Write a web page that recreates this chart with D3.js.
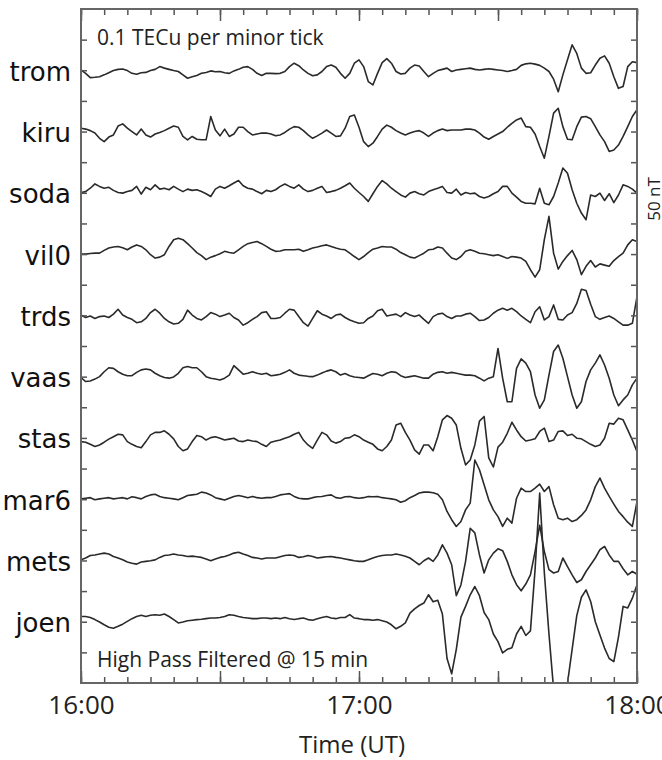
<!DOCTYPE html>
<html>
<head>
<meta charset="utf-8">
<script src="https://cdn.jsdelivr.net/npm/d3@7"></script>
<style>
  body { margin: 0; background: #fff; }
  svg { display: block; }
  .tick line { stroke: #555; stroke-width: 1.5; }
  .trace { fill: none; stroke: #2a2a2a; stroke-width: 1.6; stroke-linejoin: round; }
</style>
</head>
<body>
<div class="tec-plot"></div>
<script>
// station order, top to bottom
var STATIONS = ["trom", "kiru", "soda", "vil0", "trds", "vaas", "stas", "mar6", "mets", "joen"];

// high-pass filtered dTEC in 0.01 TECu, one sample per minute from 16:00 UT
var trom = [0.1,-1.0,-2.4,-2.3,-2.1,-1.5,-0.8,-0.1,0.3,0.4,
  -0.1,-1.0,-1.3,-0.8,-0.7,-0.1,0.3,1.2,0.7,0.3,
  -0.1,-0.4,-1.5,-2.6,-2.1,-1.7,-1.0,-0.7,-0.2,-0.5,
  -0.4,-0.8,-1.0,-0.2,0.3,1.0,1.2,0.3,-1.0,-1.7,
  -1.0,-1.0,-1.1,-1.0,-0.4,1.2,2.3,1.5,0.1,-1.0,
  -1.8,-1.5,-0.4,1.2,1.7,1.0,-1.0,-2.6,-1.0,2.3,
  3.4,1.2,-3.7,-4.8,-1.0,2.5,3.8,2.3,-0.4,-1.2,
  -1.0,0.7,1.7,1.4,-0.4,-2.1,-1.0,-0.1,0.3,0.7,
  -0.4,0.1,0.3,0.5,0.7,0.3,0.1,0.3,0.5,0.3,
  0.1,-0.1,-0.4,-0.1,0.3,1.6,2.1,2.3,2.0,1.6,
  0.7,-0.4,-2.9,-7.0,-1.5,3.4,8.3,5.5,0.7,-1.0,
  -0.8,1.7,3.9,4.7,2.3,-2.1,-5.9,-5.3,1.2,2.8,
  2.5];
var kiru = [1.1,0.8,0.3,-0.5,-2.2,-3.3,-1.8,-1.1,1.8,2.5,
  1.1,0,-1.1,0.8,-1.1,-1.8,-0.8,-0.3,0.3,1.1,
  1.8,1.4,-1.6,-2.7,-1.6,-2.5,-2.7,-2.7,4.9,0.5,
  -1.4,0.8,-1.6,-0.8,1.4,1.4,0,-1.1,-0.8,-0.5,
  -0.5,-0.8,-1.4,-1.1,-0.3,0.8,1.6,1.4,0.3,-1.1,
  -2.2,-1.4,-0.5,0.5,-0.5,-1.6,-1.4,1.1,4.9,5.4,
  1.4,-3.3,-4.9,-3.8,-1.6,0.8,2.1,1.4,0.3,-0.5,
  -1.1,-0.5,0,0.3,-0.5,-1.6,-0.5,0.3,0.8,0.3,
  0.5,0.5,0.5,0.8,0.8,0.5,-0.5,-1.8,-2.5,-1.6,
  -0.8,0,1.4,2.7,3.8,4.4,1.6,1.4,-0.8,-4.9,
  -8.7,-1.6,6.0,7.6,1.6,-2.5,-2.7,1.6,4.7,4.9,
  4.2,1.6,-1.1,-3.3,-6.5,-6.0,-4.4,-1.6,1.6,4.9,
  7.1];
var soda = [0.1,0.4,1.5,2.9,2.1,1.5,1.8,0.8,0.1,-0.1,
  0.4,0.8,2.1,-0.4,1.8,1.0,2.6,1.2,1.5,1.0,
  2.1,1.2,0.4,1.2,0.8,1.0,0.4,-0.3,-1.2,1.2,
  2.1,1.5,2.3,3.2,4.0,2.3,1.5,1.2,0.4,-0.3,
  0.8,0.4,1.0,2.1,2.9,2.1,1.5,2.6,1.2,0.4,
  0.8,1.5,2.1,0.1,0.4,0.8,1.5,2.3,3.2,1.5,
  0.1,-1.2,-2.8,-0.3,2.1,4.0,2.9,1.5,0.4,-0.7,
  -1.4,-0.1,0.4,-0.3,-0.7,0.4,1.0,1.5,2.1,0.1,
  -0.1,1.2,-0.7,0.1,-0.3,-0.1,-1.2,-1.7,-1.2,-0.3,
  0.4,2.1,2.1,-0.1,-1.4,-2.8,-3.4,-3.4,-3.6,1.5,
  -3.4,-3.9,-1.2,3.2,8.1,6.4,1.0,-3.4,-6.6,-8.8,
  -0.7,-1.2,-0.1,-2.5,-0.3,-3.2,-0.7,2.6,2.1,1.2,
  -0.1];
var vil0 = [0,0,0.2,0.3,0.3,1.2,2.0,2.3,2.5,2.1,
  1.4,2.3,3.0,2.5,1.4,-0.2,-1.3,-1.0,-0.2,2.5,
  4.7,5.2,4.7,3.4,2.0,0.5,-0.5,-1.8,-1.0,-0.5,
  0.1,0.9,0.5,0.3,1.4,2.5,3.4,3.8,4.1,3.4,
  2.5,1.6,0.9,1.0,1.4,1.4,1.4,1.6,0.9,1.4,
  2.0,2.3,2.7,3.0,2.5,2.0,1.6,1.4,0.3,-0.8,
  -1.8,-0.8,0.5,1.6,2.0,2.5,2.3,2.3,1.6,0.5,
  -0.2,-1.0,-1.3,-0.5,0.3,1.4,1.6,2.3,2.0,0.3,
  -1.3,-1.8,-0.8,0.9,1.4,0.9,0.3,0.1,-0.2,-0.5,
  -0.2,-0.8,-1.4,-0.8,-1.0,-1.3,-2.4,-5.1,-7.5,-5.1,
  4.7,12.3,0.3,-4.9,-2.4,-0.5,1.2,-1.8,-6.7,-4.0,
  -2.1,-4.2,-3.2,-3.6,-4.0,-2.1,-0.8,0.3,3.0,4.7,
  4.1];
var trds = [0.1,-0.7,-0.2,-1.0,-0.4,-0.2,-0.7,0.4,2.0,0.1,
  -0.7,-1.3,-2.4,-2.1,-1.0,0.9,2.0,0.7,-1.0,-2.1,
  -2.8,-2.6,-1.3,1.7,0.1,-1.0,-1.5,-0.4,0.9,0.4,
  -0.4,0.1,0.7,-0.7,-1.5,-3.2,-2.4,-1.3,-0.4,0.9,
  1.2,-1.0,-1.0,-0.7,0.7,2.0,1.7,-0.4,-2.4,-3.5,
  -1.0,1.5,0.4,-0.2,-1.0,0.1,0.4,-0.7,-1.5,-2.1,
  -2.6,-2.4,-1.0,-0.2,1.5,2.0,-0.2,0.1,0.4,-0.4,
  0.9,0.1,-0.4,0.1,-1.3,-2.6,-0.4,0.4,0.7,-0.4,
  -1.0,-0.2,-0.2,0.4,0.7,-0.4,-1.7,-1.5,-0.7,0.7,
  1.7,2.3,1.7,2.3,1.2,-0.2,-1.3,-2.4,1.2,2.8,
  -1.5,-0.4,3.4,-1.3,-1.5,0.1,0.9,3.9,8.5,8.1,
  3.6,-0.4,-1.3,-0.7,-0.2,-1.0,-2.1,-3.2,-3.2,-2.6,
  6.1];
var vaas = [-0.3,-1.6,-1.4,-0.8,0,1.6,2.9,2.7,1.6,0.8,
  0.3,0.3,1.4,2.2,2.5,2.2,1.1,0.3,-0.3,-0.5,
  -0.1,1.1,2.9,3.3,2.9,2.9,1.6,0,-0.5,-0.8,
  -1.1,-0.5,0.5,3.6,2.2,0.8,1.1,1.6,1.1,0.8,
  1.1,0.3,0.5,0.8,1.4,2.2,1.1,0.5,0.3,0.1,
  0,0.5,1.2,1.8,2.2,1.6,0.5,1.0,0.3,-0.1,
  -0.3,-0.5,0.3,1.0,0.8,0.3,1.1,1.6,1.4,0.3,
  -0.3,0,0.3,-0.1,-0.5,-0.5,0.8,1.4,1.6,1.1,
  1.4,1.1,0.8,0.5,0.5,0.3,-0.5,-1.4,-0.5,0,
  9.2,-0.5,-8.2,-8.2,2.7,5.8,4.4,1.6,-6.0,-10.3,
  -7.6,0.5,8.2,10.3,6.0,0,-6.0,-10.3,-8.2,-1.6,
  2.2,4.4,7.1,3.8,-0.5,-6.0,-9.5,-7.6,-6.0,-2.7,
  -0.5];
var stas = [-1.2,-1.4,-2.1,-2.8,-2.3,-1.4,-0.4,0.4,1.2,1.0,
  -1.2,-2.1,-2.8,-3.2,-1.2,1.0,1.8,1.8,2.3,1.2,
  -0.3,-2.8,-4.2,-3.6,-1.2,0.8,0.4,-0.7,0.1,0.4,
  -0.1,-0.7,-0.4,-0.1,-1.0,-1.2,-0.7,-1.0,-1.2,-2.1,
  -2.8,-1.4,-1.0,-0.7,-0.1,0.4,1.2,1.8,-0.7,-2.3,
  -3.4,-0.7,1.8,1.0,-1.0,-1.7,-1.2,-0.1,0.1,1.0,
  0.4,-0.7,-1.4,-2.1,-3.6,-4.2,-2.8,-0.7,4.2,4.8,
  1.8,-0.7,-3.9,-5.3,-2.3,-2.3,-4.2,0.4,5.9,7.3,
  6.4,4.2,-3.4,-8.8,-7.2,-2.3,5.5,7.0,-6.5,-9.5,
  -3.0,-1.4,1.5,5.1,2.6,0.4,-1.0,-0.7,-0.3,2.1,
  3.2,-1.2,-0.7,2.1,2.3,0.8,1.2,-0.1,-0.3,-1.2,
  -2.1,-2.8,-2.3,-0.1,4.8,4.5,6.4,5.9,2.6,-0.7,
  -4.5];
var mar6 = [0.1,0.3,0.5,-0.2,0.1,0.3,0.5,0.1,0.3,0.5,
  0.1,0.8,0.5,0.1,0.9,1.4,1.6,0.9,0.5,0.3,
  0.1,-0.2,0.5,1.2,1.4,1.6,2.3,2.0,1.4,0.5,
  0.1,-0.3,0.3,0.9,1.2,0.9,0.5,0.9,0.5,0.3,
  0.5,0.5,0.9,1.4,1.6,1.8,0.9,0.3,0.1,0.1,
  0.5,0.8,0.9,1.2,1.4,0.5,0.3,0.8,0.9,0.5,
  0.3,0.5,0.9,0.8,0.9,0.5,0.3,0.1,-0.2,-1.0,
  -0.5,0.5,1.2,2.0,2.3,2.3,2.1,1.6,-0.2,-4.0,
  -6.7,-8.9,-7.3,-3.5,-1.3,12.8,9.6,4.7,-0.2,-3.5,
  -5.7,-8.9,-6.2,-7.8,0.3,3.6,2.5,2.5,3.6,4.9,
  2.5,4.1,-1.8,-6.2,-6.7,-6.2,-7.3,-6.7,-5.3,-3.5,
  -0.2,4.1,6.9,3.6,0.9,-1.6,-4.0,-5.7,-7.5,-8.9,
  -0.8];
var mets = [0.2,0.8,1.6,1.8,2.1,2.4,2.1,1.3,0.8,0.2,
  -0.5,-0.9,-1.2,-0.5,-0.3,-0.1,0.2,1.0,1.6,1.8,
  2.1,1.8,1.6,1.3,1.4,1.2,1.0,0.5,-0.1,0.5,
  1.0,1.3,1.8,2.4,2.7,2.1,1.6,1.0,0.8,0.5,
  0.8,0.8,0.8,1.2,1.6,1.8,1.6,1.0,1.2,1.6,
  1.3,0.8,1.0,1.2,1.3,1.0,0.8,0.5,0.2,-0.1,
  -0.3,-0.3,0.2,0.8,1.3,1.6,1.8,1.8,2.1,1.8,
  1.4,0.8,-0.3,-1.4,-0.1,0.8,-0.3,1.8,5.1,2.4,
  -1.4,-11.5,-8.0,-0.3,10.5,9.0,1.8,-4.1,0.2,2.4,
  3.8,3.2,-0.3,-4.7,-7.9,-9.9,-7.7,-4.7,2.9,11.5,
  2.9,-3.0,-4.1,-3.6,0.8,-2.0,-4.7,-7.2,-6.3,-3.6,
  -1.4,0.8,3.5,4.6,1.8,-0.3,-0.3,-2.7,-4.7,-3.6,
  -4.5];
var joen = [1.7,1.7,1.4,0.7,-0.1,-1.0,-1.8,-2.1,-1.5,-0.8,
  0.1,1.0,1.7,2.1,1.7,2.1,2.3,2.1,2.5,1.7,
  0.7,-0.4,-0.1,0.3,0.5,0.7,0.8,1.0,1.2,1.2,
  1.4,1.7,2.3,2.1,1.7,1.4,1.2,1.0,1.0,1.2,
  1.2,1.0,1.2,1.0,1.4,1.0,0.7,1.0,1.2,0.7,
  0.5,1.0,1.4,1.7,1.2,1.0,1.4,1.4,2.3,1.2,
  1.0,0.7,0.7,0.5,0.7,0.3,-0.1,-1.0,-2.3,-1.5,
  -0.4,2.8,4.2,5.3,6.1,8.8,6.5,7.0,2.5,-12.0,
  -17.0,-9.0,1.5,5.0,8.8,11.5,8.5,3.0,0.7,-4.0,
  -6.5,-10.2,-9.0,-8.5,-4.0,-1.5,-4.5,-3.0,17.0,42.0,
  16.0,-4.0,-22.0,-40.0,-35.0,-20.0,-9.0,2.0,8.0,10.4,
  6.6,0,-4.3,-8.6,-12.0,-13.0,-5.0,5.0,4.5,7.7,
  12.1];

var SERIES = [trom, kiru, soda, vil0, trds, vaas, stas, mar6, mets, joen];
var HOUR_TICKS = ["16:00", "17:00", "18:00"];
var START = "16:00";

var margin = {top: 9, right: 25, bottom: 77, left: 81},
    width = 662 - margin.left - margin.right,
    height = 760 - margin.top - margin.bottom;

var parseTime = d3.utcParse("%H:%M");
var t0 = parseTime(START);
var hours = HOUR_TICKS.map(parseTime);

var x = d3.scaleUtc().domain([hours[0], hours[hours.length - 1]]).range([0, width]);
// 0.01 TECu units, each station offset by 0.2 TECu
var y = d3.scaleLinear().domain([0, 220]).range([height, 0]);

function offset(i) { return (STATIONS.length - i) * 20; }

var svg = d3.select(".tec-plot").append("svg")
  .attr("width", 662)
  .attr("height", 760)
  .append("g")
  .attr("transform", "translate(" + margin.left + "," + margin.top + ")");

svg.append("clipPath").attr("id", "plot-clip")
  .append("rect").attr("width", width).attr("height", height);

// traces
var line = d3.line()
  .x(function (d, j) { return x(d3.utcMinute.offset(t0, j)); });

svg.append("g").attr("clip-path", "url(#plot-clip)")
  .selectAll(".trace")
  .data(SERIES)
  .enter().append("path")
  .attr("class", "trace")
  .attr("d", function (d, i) {
    return line.y(function (v) { return y(offset(i) + v); })(d);
  });

// ticks on all four sides, pointing inward
var yTicks = d3.range(10, 220, 10);

svg.append("g").call(d3.axisRight(y).tickValues(yTicks).tickSize(6).tickFormat(""))
  .select(".domain").remove();
svg.append("g").attr("transform", "translate(" + width + ",0)")
  .call(d3.axisLeft(y).tickValues(yTicks).tickSize(6).tickFormat(""))
  .select(".domain").remove();

[[0, d3.axisBottom], [height, d3.axisTop]].forEach(function (p) {
  svg.append("g").attr("transform", "translate(0," + p[0] + ")")
    .call(p[1](x).ticks(d3.utcMinute.every(5)).tickSize(6).tickFormat(""))
    .select(".domain").remove();
  svg.append("g").attr("transform", "translate(0," + p[0] + ")")
    .call(p[1](x).ticks(d3.utcMinute.every(30)).tickSize(12).tickFormat(""))
    .select(".domain").remove();
});

// hour labels
var xLabels = svg.append("g")
  .attr("transform", "translate(0," + height + ")")
  .call(d3.axisBottom(x).tickValues(hours).tickSize(0).tickPadding(13).tickFormat(d3.utcFormat("%H:%M")));
xLabels.select(".domain").remove();
xLabels.selectAll("text")
  .style("font-family", "'Open Sans', sans-serif")
  .style("font-size", "26px")
  .style("fill", "#222");

// frame
svg.append("rect")
  .attr("width", width)
  .attr("height", height)
  .style("fill", "none")
  .style("stroke", "#666")
  .style("stroke-width", 2);

// station names
svg.selectAll(".station")
  .data(STATIONS)
  .enter().append("text")
  .attr("class", "station")
  .attr("x", -10)
  .attr("y", function (d, i) { return y(offset(i)) + 10.5; })
  .style("text-anchor", "end")
  .style("font-family", "'DejaVu Sans', sans-serif")
  .style("font-size", "26px")
  .style("fill", "#111")
  .text(function (d) { return d; });

svg.append("text")
  .attr("x", 16)
  .attr("y", 36)
  .style("font-family", "'Open Sans', sans-serif")
  .style("font-size", "21px")
  .style("fill", "#222")
  .text("0.1 TECu per minor tick");

svg.append("text")
  .attr("x", 16)
  .attr("y", height - 16)
  .style("font-family", "'Open Sans', sans-serif")
  .style("font-size", "21px")
  .style("fill", "#222")
  .text("High Pass Filtered @ 15 min");

svg.append("text")
  .attr("x", width / 2 - 7)
  .attr("y", height + 70)
  .style("text-anchor", "middle")
  .style("font-family", "'Open Sans', sans-serif")
  .style("font-size", "24px")
  .style("fill", "#222")
  .text("Time (UT)");

svg.append("text")
  .attr("transform", "translate(" + (width + 23) + ",190) rotate(-90)")
  .style("text-anchor", "middle")
  .style("font-family", "'Open Sans', sans-serif")
  .style("font-size", "17px")
  .style("fill", "#222")
  .text("50 nT");
</script>
</body>
</html>
